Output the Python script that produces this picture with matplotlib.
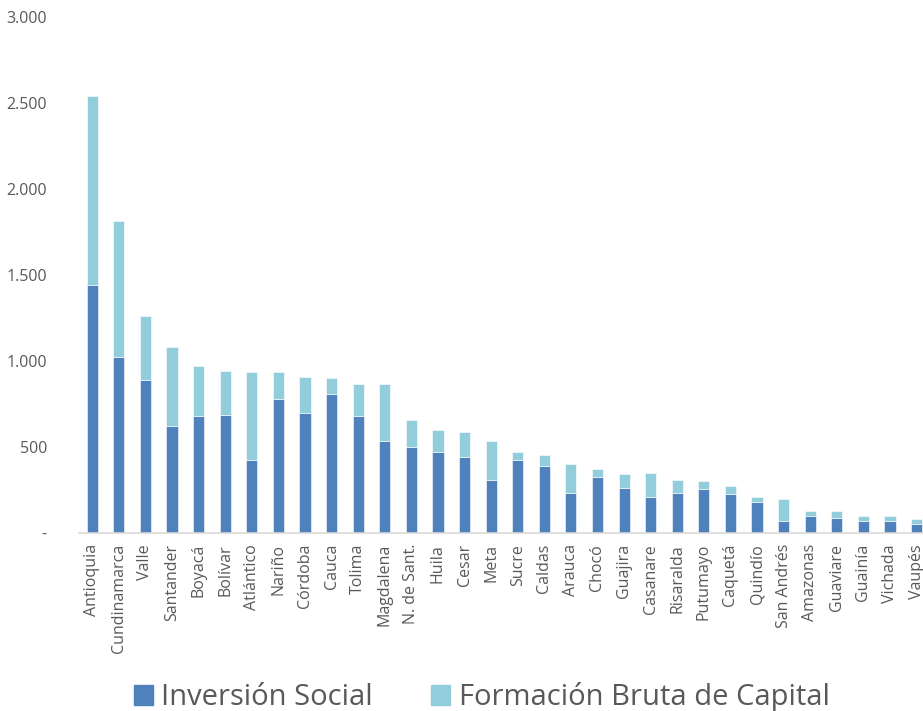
import numpy as np
import matplotlib.pyplot as plt
import matplotlib
from matplotlib.patches import Patch
from matplotlib.ticker import FuncFormatter

matplotlib.rcParams['font.family'] = ['Open Sans', 'DejaVu Sans']

departamentos = ['Antioquia', 'Cundinamarca', 'Valle', 'Santander', 'Boyacá', 'Bolívar',
                 'Atlántico', 'Nariño', 'Córdoba', 'Cauca', 'Tolima', 'Magdalena',
                 'N. de Sant.', 'Huila', 'Cesar', 'Meta', 'Sucre', 'Caldas', 'Arauca',
                 'Chocó', 'Guajira', 'Casanare', 'Risaralda', 'Putumayo', 'Caquetá',
                 'Quindío', 'San Andrés', 'Amazonas', 'Guaviare', 'Guainía', 'Vichada',
                 'Vaupés']
inversion_social = [1442, 1025, 891, 624, 680, 688, 426, 779, 700, 810, 680, 537,
                    500, 473, 444, 308, 426, 392, 234, 328, 264, 209, 234, 254,
                    229, 182, 70, 99, 89, 70, 70, 52]
total = [2542, 1816, 1262, 1081, 971, 944, 934, 934, 909, 899, 864, 864,
         655, 599, 589, 535, 473, 453, 399, 372, 345, 347, 308, 300,
         271, 207, 200, 126, 126, 99, 99, 81]
formacion_bruta = [t - s for t, s in zip(total, inversion_social)]

y_ticks = [0, 500, 1000, 1500, 2000, 2500, 3000]

azul = '#4F81BD'
celeste = '#92CDDC'
gris_texto = '#595959'

fig = plt.figure(figsize=(9.23, 7.11), dpi=100)
ax = fig.add_axes([0.0855, 0.2504, 0.922, 0.7257])

x = np.arange(len(departamentos))
ax.bar(x, inversion_social, width=0.42, color=azul, edgecolor='white', linewidth=0.4)
ax.bar(x, formacion_bruta, width=0.42, bottom=inversion_social, color=celeste,
       edgecolor='white', linewidth=0.4)

ax.set_xlim(-0.5, len(departamentos) - 0.5)
ax.set_ylim(0, 3000)
ax.set_yticks(y_ticks)
ax.yaxis.set_major_formatter(FuncFormatter(
    lambda v, p: '-' if v == 0 else '{:,.0f}'.format(v).replace(',', '.')))
ax.set_xticks(x)
ax.set_xticklabels(departamentos, rotation=90, fontsize=11.5, color=gris_texto)
ax.tick_params(axis='y', length=0, labelsize=11.5, labelcolor=gris_texto, pad=23)
ax.tick_params(axis='x', length=0, pad=8)

for s in ['top', 'right', 'left']:
    ax.spines[s].set_visible(False)
ax.spines['bottom'].set_color('#D9D9D9')
ax.spines['bottom'].set_linewidth(1.2)

handles = [Patch(color=azul, label='Inversión Social'),
           Patch(color=celeste, label='Formación Bruta de Capital')]
fig.legend(handles=handles, loc='lower center', bbox_to_anchor=(0.522, -0.039), ncol=2,
           frameon=False, fontsize=21, handlelength=0.65, handleheight=0.65,
           handletextpad=0.3, columnspacing=2.0, labelcolor=gris_texto)

fig.savefig('out.png', dpi=100)
